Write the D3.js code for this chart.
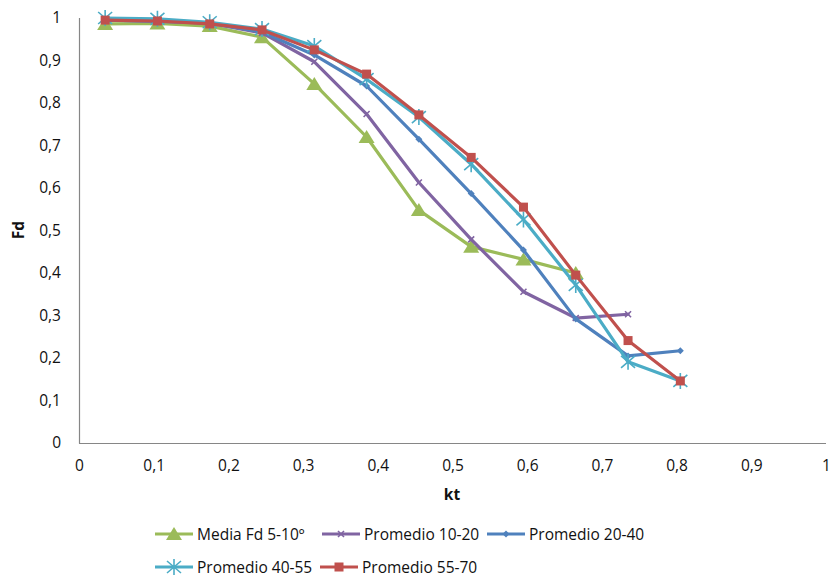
<!DOCTYPE html>
<html><head><meta charset="utf-8">
<script src="https://cdn.jsdelivr.net/npm/d3@7"></script>
<style>body{margin:0;background:#fff}svg{display:block}</style>
</head><body><svg id="c" width="830" height="579"></svg>
<script>
const xTicks = [0,0.1,0.2,0.3,0.4,0.5,0.6,0.7,0.8,0.9,1];
const yTicks = [0,0.1,0.2,0.3,0.4,0.5,0.6,0.7,0.8,0.9,1];
const kt = [0.035,0.105,0.175,0.245,0.315,0.385,0.455,0.525,0.595,0.665,0.735,0.805];
const media5_10 = [0.986,0.987,0.981,0.955,0.845,0.72,0.548,0.462,0.432,0.40];
const prom10_20 = [0.995,0.992,0.988,0.965,0.897,0.774,0.613,0.479,0.356,0.294,0.303];
const prom20_40 = [0.995,0.993,0.988,0.967,0.913,0.84,0.715,0.587,0.454,0.292,0.205,0.217];
const prom40_55 = [1.0,0.998,0.99,0.974,0.934,0.856,0.767,0.656,0.526,0.372,0.191,0.146];
const prom55_70 = [0.995,0.993,0.986,0.972,0.925,0.868,0.772,0.672,0.555,0.395,0.241,0.146];
const seriesNames = ["Media Fd 5-10º","Promedio 10-20","Promedio 20-40","Promedio 40-55","Promedio 55-70"];
const seriesColors = ["#9BBB59","#8064A2","#4F81BD","#4BACC6","#C0504D"];
const seriesMarkers = ["triangle","x","diamond","star","square"];
const seriesValues = [media5_10,prom10_20,prom20_40,prom40_55,prom55_70];

const svg = d3.select("#c");
const font = "'Open Sans', sans-serif";
const fs = 15.5;
const x = d3.scaleLinear().domain([0,1]).range([79,826]);
const y = d3.scaleLinear().domain([0,1]).range([443,18]);
const fmt = d => d3.format(".1f")(d).replace(".",",").replace(/,0$/,"");

// axes
const xa = svg.append("g").attr("transform","translate(0,443)")
  .call(d3.axisBottom(x).tickValues(xTicks).tickSize(0).tickPadding(17).tickFormat(fmt));
const ya = svg.append("g").attr("transform","translate(79,0)")
  .call(d3.axisLeft(y).tickValues(yTicks).tickSize(0).tickPadding(18).tickFormat(fmt));
[xa,ya].forEach(a=>{
  a.select(".domain").attr("stroke","#868686").attr("stroke-width",1.2);
  a.selectAll("text").attr("font-family",font).attr("font-size",fs).attr("fill","#111");
});
ya.select(".domain").attr("d","M0.5,18V443.5");
xa.select(".domain").attr("d","M79,0.5H826");

svg.append("text").attr("x",452).attr("y",500).attr("text-anchor","middle")
  .attr("font-family",font).attr("font-size",fs).attr("font-weight","bold").attr("fill","#111").text("kt");
svg.append("text").attr("transform","translate(24,230) rotate(-90)").attr("text-anchor","middle")
  .attr("font-family",font).attr("font-size",fs).attr("font-weight","bold").attr("fill","#111").text("Fd");

function marker(g, type, cx, cy, color, scale=1){
  const s = scale;
  if(type==="triangle"){
    g.append("path").attr("d",`M${cx},${cy-7*s}L${cx+8*s},${cy+6*s}L${cx-8*s},${cy+6*s}Z`).attr("fill",color);
  } else if(type==="square"){
    g.append("rect").attr("x",cx-4.5*s).attr("y",cy-4.5*s).attr("width",9*s).attr("height",9*s).attr("fill",color);
  } else if(type==="diamond"){
    g.append("path").attr("d",`M${cx},${cy-3.5*s}L${cx+3.5*s},${cy}L${cx},${cy+3.5*s}L${cx-3.5*s},${cy}Z`).attr("fill",color);
  } else if(type==="x"){
    g.append("path").attr("d",`M${cx-3*s},${cy-3*s}L${cx+3*s},${cy+3*s}M${cx+3*s},${cy-3*s}L${cx-3*s},${cy+3*s}`)
      .attr("stroke",color).attr("stroke-width",1.6);
  } else if(type==="star"){
    g.append("path").attr("d",`M${cx-7*s},${cy-6*s}L${cx+7*s},${cy+6*s}M${cx+7*s},${cy-6*s}L${cx-7*s},${cy+6*s}M${cx},${cy-8*s}L${cx},${cy+8*s}`)
      .attr("stroke",color).attr("stroke-width",1.6);
  }
}

const line = d3.line().x((d,i)=>x(kt[i])).y(d=>y(d));
seriesValues.forEach((vals,si)=>{
  const g = svg.append("g");
  g.append("path").attr("d",line(vals)).attr("fill","none").attr("stroke",seriesColors[si])
    .attr("stroke-width",3.2).attr("stroke-linejoin","round").attr("stroke-linecap","round");
  vals.forEach((v,i)=>marker(g,seriesMarkers[si],x(kt[i]),y(v),seriesColors[si]));
});

// legend
const legendPos = [[155,534],[322,534],[487,534],[155,567],[320,567]];
seriesNames.forEach((n,si)=>{
  const [lx,ly] = legendPos[si];
  const g = svg.append("g");
  g.append("line").attr("x1",lx).attr("x2",lx+38).attr("y1",ly).attr("y2",ly)
    .attr("stroke",seriesColors[si]).attr("stroke-width",3.2);
  marker(g,seriesMarkers[si],lx+19,ly,seriesColors[si]);
  g.append("text").attr("x",lx+42).attr("y",ly+5.5).attr("font-family",font).attr("font-size",fs)
    .attr("fill","#111").text(n);
});
</script></body></html>
